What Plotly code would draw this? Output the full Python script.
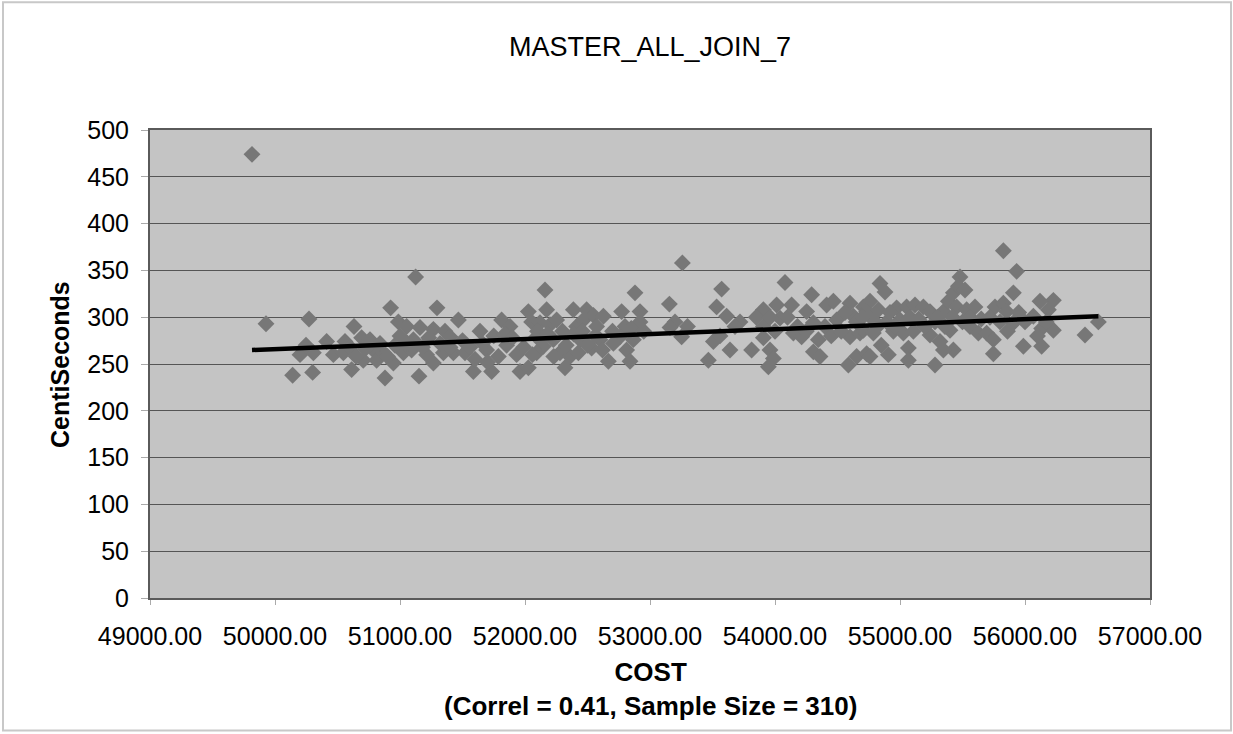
import plotly.graph_objects as go

cost = [
    49816, 49928, 50272, 50141, 50301, 50200, 50307, 50248, 50413, 50467,
    50560, 50547, 50632, 50693, 50613, 50706, 50787, 50813, 50760, 50880,
    50867, 50947, 50925, 50987, 51053, 51027, 51125, 51296, 51160, 51267,
    51152, 51107, 51213, 51267, 51360, 51347, 51093, 51467, 51400, 51427,
    51520, 51587, 51640, 51693, 51733, 51787, 51813, 51880, 51853, 51933,
    51960, 52027, 52027, 52053, 52093, 52160, 52173, 52120, 52200, 52253,
    52147, 52093, 52227, 52280, 52320, 52360, 52387, 52413, 52493, 52467,
    52440, 52427, 52547, 52573, 52600, 52533, 52627, 52667, 52773, 52800,
    52760, 52880, 52920, 52920, 52867, 52813, 52840, 52707, 53259, 53155,
    53200, 53160, 53253, 53573, 53533, 53613, 53720, 53507, 53640, 53467,
    53813, 53907, 54013, 54040, 53907, 53907, 53960, 53987, 53947, 54080,
    54133, 54147, 54213, 54253, 54293, 54307, 54307, 54347, 54360, 54413,
    54467, 54493, 54600, 54627, 54600, 54680, 54587, 54653, 54733, 54707,
    54840, 54880, 54760, 54733, 54827, 54787, 54893, 54707, 54787, 54760,
    54907, 54973, 55053, 55120, 55187, 55240, 55000, 54947, 55027, 55107,
    55067, 55067, 55240, 55280, 55320, 55347, 55387, 55427, 55480, 55467,
    55520, 55453, 55400, 55427, 55347, 55533, 55600, 55560, 55627, 55693,
    55747, 55747, 55760, 55827, 55907, 55853, 55907, 55827, 55933, 55987,
    56120, 56227, 56133, 56227, 56133, 56067, 56187, 56587, 56480,
    50600, 50650, 50720, 50840, 50900, 50960, 51000, 51060, 51180, 51230,
    51320, 51400, 51500, 51560, 51600, 51660, 51700, 51750, 51840, 51900,
    51990, 52060, 52100, 52180, 52230, 52300, 52330, 52390, 52460, 52500,
    52560, 52620, 52700, 52850, 52950, 53300, 53560, 53680, 53850, 53960,
    54000, 54100, 54180, 54250, 54400, 54450, 54530, 54560, 54650, 54700,
    54820, 54850, 54920, 54960, 55080, 55150, 55200, 55280, 55300, 55360,
    55420, 55500, 55560, 55650, 55720, 55800, 55860, 55950, 56000, 56170,
    56100,
]
centiseconds = [
    474, 293, 298, 238, 241, 260, 262, 270, 274, 260,
    274, 262, 290, 278, 244, 254, 265, 254, 276, 235,
    262, 251, 310, 295, 290, 262, 343, 310, 289, 287,
    237, 276, 260, 251, 285, 262, 265, 297, 279, 262,
    262, 242, 285, 265, 242, 258, 297, 290, 270, 260,
    242, 246, 306, 295, 279, 329, 308, 294, 292, 297,
    269, 262, 276, 262, 246, 258, 308, 290, 308, 297,
    276, 262, 302, 290, 276, 267, 301, 253, 306, 290,
    279, 326, 306, 295, 276, 265, 253, 272, 358, 314,
    295, 289, 279, 330, 311, 301, 295, 274, 265, 254,
    265, 308, 313, 299, 290, 278, 265, 256, 247, 337,
    313, 283, 279, 306, 324, 294, 263, 276, 258, 313,
    317, 297, 315, 301, 279, 283, 249, 258, 261, 311,
    336, 327, 317, 306, 308, 297, 295, 286, 283, 258,
    260, 310, 311, 313, 311, 306, 297, 285, 283, 285,
    267, 254, 281, 249, 274, 306, 317, 326, 343, 333,
    329, 311, 286, 265, 265, 308, 311, 290, 283, 283,
    276, 261, 311, 315, 326, 306, 294, 371, 349, 269,
    317, 318, 288, 286, 269, 301, 308, 295, 281,
    268, 258, 266, 272, 258, 270, 280, 272, 268, 278,
    272, 268, 275, 268, 255, 272, 252, 280, 282, 278,
    268, 260, 285, 282, 258, 285, 270, 282, 285, 270,
    280, 265, 285, 288, 285, 290, 280, 290, 300, 300,
    285, 300, 290, 285, 290, 280, 285, 305, 295, 300,
    290, 270, 305, 290, 300, 298, 290, 295, 300, 290,
    300, 295, 300, 298, 300, 295, 285, 305, 295, 295,
    280,
]

trend_cost = [49816, 56587]
trend_cs = [265, 301]

x_ticks = [49000, 50000, 51000, 52000, 53000, 54000, 55000, 56000, 57000]
y_ticks = [0, 50, 100, 150, 200, 250, 300, 350, 400, 450, 500]

title_text = "MASTER_ALL_JOIN_7"
x_title = "<b>COST</b><br><b>(Correl = 0.41, Sample Size = 310)</b>"
y_title = "<b>CentiSeconds</b>"

FONT = "Liberation Sans, Arial, sans-serif"

fig = go.Figure()
fig.add_trace(go.Scatter(
    x=cost, y=centiseconds, mode="markers",
    marker=dict(symbol="diamond", size=13, color="#777777", line=dict(width=0)),
    showlegend=False,
))
fig.add_trace(go.Scatter(
    x=trend_cost, y=trend_cs, mode="lines",
    line=dict(color="black", width=4.5),
    showlegend=False,
))

fig.update_layout(
    width=1233, height=734,
    paper_bgcolor="white", plot_bgcolor="#c4c4c4",
    margin=dict(l=150, r=83, t=130, b=136, autoexpand=False),
    font=dict(family=FONT, color="black", size=24),
    title=dict(text=title_text, x=0.5, xanchor="center", y=0.936, yanchor="middle",
               xref="paper", font=dict(size=27, family=FONT)),
    xaxis=dict(
        range=[49000, 57000], tickvals=x_ticks, tickformat=".2f",
        showgrid=False, zeroline=False, automargin=False,
        showline=True, linecolor="#5a5a5a", linewidth=2, mirror=True,
        ticks="outside", ticklen=5, tickcolor="#aaaaaa",
        tickfont=dict(size=25, family=FONT), ticklabelstandoff=10,
    ),
    yaxis=dict(
        range=[0, 500], tickvals=y_ticks,
        showgrid=True, gridcolor="#555555", gridwidth=1, zeroline=False, automargin=False,
        showline=True, linecolor="#5a5a5a", linewidth=2, mirror=True,
        ticks="outside", ticklen=7, tickcolor="#aaaaaa",
        tickfont=dict(size=25, family=FONT), ticklabelstandoff=7,
    ),
)

fig.add_annotation(text=x_title, xref="paper", yref="paper", x=0.5, y=-0.195,
                   xanchor="center", yanchor="middle", showarrow=False,
                   font=dict(size=26, family=FONT, color="black"))
fig.add_annotation(text=y_title, xref="paper", yref="paper", x=-0.09, y=0.498,
                   xanchor="center", yanchor="middle", showarrow=False, textangle=-90,
                   font=dict(size=25, family=FONT, color="black"))

fig.add_shape(type="rect", xref="paper", yref="paper",
              x0=-0.147, x1=1.081, y0=-0.283, y1=1.273,
              line=dict(color="#c8c8c8", width=2), fillcolor="rgba(0,0,0,0)",
              layer="below")

fig.write_html("out.html", config={"displayModeBar": False},
               post_script="document.body.style.margin='0';document.body.style.overflow='hidden';")
